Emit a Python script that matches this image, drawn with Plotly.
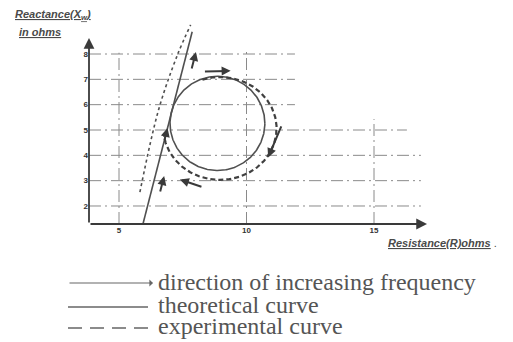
import numpy as np
import plotly.graph_objects as go

# ---- data ----
x_ticks = [5, 10, 15]
y_ticks = [2, 3, 4, 5, 6, 7, 8]

# grid: how far each horizontal rule runs (in ohms of resistance)
h_grid_levels = [2, 3, 4, 5, 6, 7, 8]
h_grid_ends = [16.84, 16.84, 16.84, 16.29, 11.9, 11.9, 11.9]
# vertical rules and their top ends (in ohms of reactance)
v_grid_levels = [5, 10, 15]
v_grid_tops = [8.05, 8.08, 5.43]

# theoretical circle locus
theo_cx, theo_cy, theo_r = 8.86, 5.26, 1.86
# theoretical straight portion (resistance, reactance)
theo_line_x = [5.94, 7.87]
theo_line_y = [1.29, 8.88]

# experimental locus: arc of a slightly larger loop
exp_cx, exp_cy, exp_rx, exp_ry = 8.96, 5.06, 2.22, 2.03
exp_arc_start, exp_arc_end = 108, -174   # degrees, drawn clockwise
# experimental straight portion
exp_line_x = [5.82, 6.55, 7.29, 7.81]
exp_line_y = [2.55, 5.79, 7.96, 9.15]

# frequency-direction arrows around the circle: (tail angle, head angle, tail scale, head scale)
circle_arrows = [(105, 76, 1.14, 1.15), (-1.3, -34, 1.36, 1.29), (-102.7, -123.6, 1.39, 1.43)]
# frequency-direction arrows along the line: (tail reactance, head reactance, sideways offset)
line_arrows = [(7.37, 8.08, 0.35), (2.51, 3.18, 0.35), (4.55, 5.08, 0.0)]

legend_items = ["direction of increasing frequency", "theoretical curve", "experimental curve"]

# ---- layout geometry ----
W, H = 513, 342
ML, MR, MT, MB = 89, 73, 18, 118
PX_X = 25.5     # pixels per ohm (resistance)
PX_Y = 25.33    # pixels per ohm (reactance)
pw, ph = W - ML - MR, H - MT - MB
x0 = 3.8235
y0 = 1.289
x1 = x0 + pw / PX_X
y1 = y0 + ph / PX_Y

def px(xp):
    return (xp - ML) / pw

def py(yp):
    return (H - MB - yp) / ph

INK = "#3a3a3a"
GRID = "#8a8a8a"

fig = go.Figure()

# grid rules
for lvl, end in zip(h_grid_levels, h_grid_ends):
    fig.add_trace(go.Scatter(x=[x0, end], y=[lvl, lvl], mode="lines",
                             line=dict(color=GRID, width=1, dash="12px,4px,2px,4px"),
                             hoverinfo="skip", showlegend=False))
for lvl, top in zip(v_grid_levels, v_grid_tops):
    fig.add_trace(go.Scatter(x=[lvl, lvl], y=[y0, top], mode="lines",
                             line=dict(color=GRID, width=1, dash="12px,4px,2px,4px"),
                             hoverinfo="skip", showlegend=False))

# theoretical circle
t = np.linspace(0, 2 * np.pi, 361)
fig.add_trace(go.Scatter(x=theo_cx + theo_r * np.cos(t), y=theo_cy + theo_r * np.sin(t),
                         mode="lines", line=dict(color="#505050", width=1.6),
                         hoverinfo="skip", showlegend=False))
# theoretical line
fig.add_trace(go.Scatter(x=theo_line_x, y=theo_line_y, mode="lines",
                         line=dict(color="#505050", width=1.6),
                         hoverinfo="skip", showlegend=False))

# experimental arc
ta = np.radians(np.linspace(exp_arc_start, exp_arc_end, 300))
fig.add_trace(go.Scatter(x=exp_cx + exp_rx * np.cos(ta), y=exp_cy + exp_ry * np.sin(ta),
                         mode="lines", line=dict(color="#404040", width=2.2, dash="5px,3px"),
                         hoverinfo="skip", showlegend=False))
# experimental line
fig.add_trace(go.Scatter(x=exp_line_x, y=exp_line_y, mode="lines",
                         line=dict(color="#505050", width=1.6, dash="3px,3px", shape="spline"),
                         hoverinfo="skip", showlegend=False))

annotations = []

def arrow(xh, yh, xt, yt, width=1.6, size=1.0, head=2, ref=("x", "y")):
    annotations.append(dict(x=xh, y=yh, ax=xt, ay=yt, xref=ref[0], yref=ref[1],
                            axref=ref[0], ayref=ref[1], text="", showarrow=True,
                            arrowhead=head, arrowsize=size, arrowwidth=width,
                            arrowcolor=INK))

# axes drawn as arrows
arrow(17.08, y0, x0, y0, width=1.8, size=1.2)
arrow(x0, 8.63, x0, y0, width=1.8, size=1.2)

# direction arrows on the circle
for ta_deg, ha_deg, ts, hs in circle_arrows:
    tx = theo_cx + theo_r * ts * np.cos(np.radians(ta_deg))
    ty = theo_cy + theo_r * ts * np.sin(np.radians(ta_deg))
    hx = theo_cx + theo_r * hs * np.cos(np.radians(ha_deg))
    hy = theo_cy + theo_r * hs * np.sin(np.radians(ha_deg))
    arrow(hx, hy, tx, ty, width=2, size=0.9)

# direction arrows along the line
def line_x_at(yv):
    return float(np.interp(yv, theo_line_y, theo_line_x))

for ty, hy, off in line_arrows:
    arrow(line_x_at(hy) + off, hy, line_x_at(ty) + off, ty, width=2, size=0.9)

# axis titles (handwritten style)
hand = dict(family="Liberation Sans", size=11, color="#4a4a4a")
annotations.append(dict(x=px(13), y=py(15), xref="paper", yref="paper", xanchor="left",
                        yanchor="middle", showarrow=False, font=hand,
                        text="<b><i><span style='text-decoration:underline'>Reactance(X<sub>w</sub>)</span></i></b>"))
annotations.append(dict(x=px(17), y=py(32), xref="paper", yref="paper", xanchor="left",
                        yanchor="middle", showarrow=False, font=hand,
                        text="<b><i><span style='text-decoration:underline'>in ohms</span></i></b>"))
annotations.append(dict(x=px(386), y=py(243), xref="paper", yref="paper", xanchor="left",
                        yanchor="middle", showarrow=False, font=hand,
                        text="<b><i><span style='text-decoration:underline'>Resistance(R)ohms</span></i></b> ."))

# key below the chart
serif = dict(family="Liberation Serif", size=24, color="#555555")
key_y = [282, 305, 326]
for label, yk in zip(legend_items, key_y):
    annotations.append(dict(x=px(156), y=py(yk), xref="paper", yref="paper", xanchor="left",
                            yanchor="middle", showarrow=False, font=serif, text=label))
annotations.append(dict(x=px(153), y=py(key_y[0] + 1), ax=-85, ay=0, xref="paper", yref="paper",
                        text="", showarrow=True, arrowhead=1, arrowsize=1.0, arrowwidth=1.2,
                        arrowcolor="#666666"))

shapes = [
    dict(type="line", xref="paper", yref="paper", x0=px(68), x1=px(148),
         y0=py(key_y[1] + 2), y1=py(key_y[1] + 2), line=dict(color="#666666", width=1.3)),
    dict(type="line", xref="paper", yref="paper", x0=px(68), x1=px(149),
         y0=py(key_y[2] + 2), y1=py(key_y[2] + 2),
         line=dict(color="#666666", width=1.3, dash="14px,8px")),
]

fig.update_layout(
    width=W, height=H,
    margin=dict(l=ML, r=MR, t=MT, b=MB),
    paper_bgcolor="white", plot_bgcolor="white",
    showlegend=False,
    annotations=annotations, shapes=shapes,
    xaxis=dict(range=[x0, x1], showgrid=False, zeroline=False, showline=False,
               tickvals=x_ticks, ticktext=["<b>%d</b>" % v for v in x_ticks], ticks="",
               tickfont=dict(family="Liberation Sans", size=8, color="#333333")),
    yaxis=dict(range=[y0, y1], showgrid=False, zeroline=False, showline=False,
               tickvals=y_ticks, ticktext=["<b>%d</b>" % v for v in y_ticks], ticks="",
               tickfont=dict(family="Liberation Sans", size=8, color="#333333")),
)

fig.write_html("out.html")
